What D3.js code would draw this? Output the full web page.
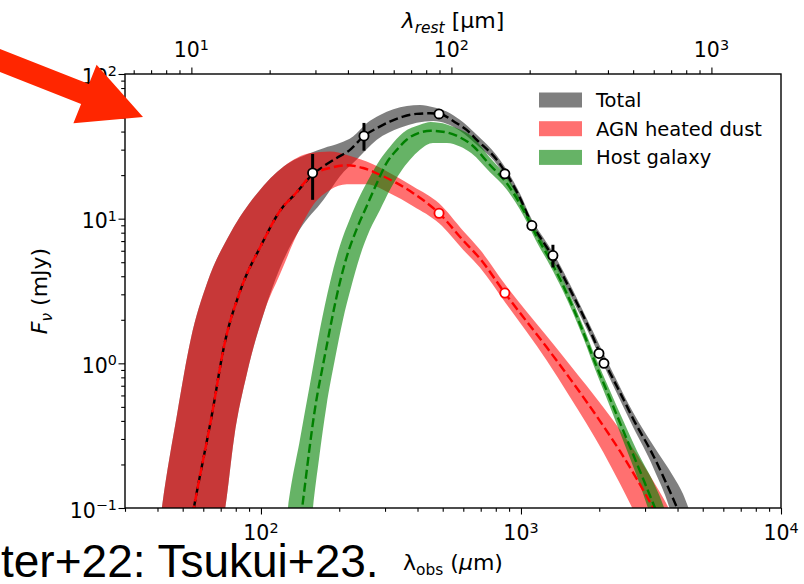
<!DOCTYPE html>
<html>
<head>
<meta charset="utf-8">
<script src="https://cdn.jsdelivr.net/npm/d3@7/dist/d3.min.js"></script>
<style>
  html, body { margin: 0; padding: 0; background: #fff; }
  svg { display: block; }
</style>
</head>
<body>
<svg id="chart" width="804" height="584"></svg>
<script>
// ---------------- data ----------------
const onePlusZ = 5.4;                       // rest-frame conversion for the top axis
const xMajorTicks = [100, 1000, 10000];
const restMajorTicks = [10, 100, 1000];
const yMajorTicks = [0.1, 1, 10, 100];

// photometry (observed wavelength in µm, flux density in mJy)
const obsWavelength = [158, 249, 484, 867, 1101, 1327, 1995, 2085];
const obsFlux       = [20.7, 37.3, 53.0, 20.4, 8.96, 5.56, 1.17, 1.0];
const obsErrLow     = [13.5, 29.5, null, null, null, 4.6, null, null];
const obsErrHigh    = [28.0, 45.9, null, null, null, 6.6, null, null];

// AGN-only contribution at two bands
const agnPointWavelength = [484, 867];
const agnPointFlux = [10.9, 3.06];

// model curves: [wavelength µm, flux mJy]
const totalModel = [[52.5,0.06],[55.2,0.1],[65,0.457],[72.1,1.31],[83.6,3.24],[99.7,6.44],[122,12.2],[133,14.3],[158,20.2],
  [174,23.0],[195,26.2],[220,29.9],[249,37.3],[279,42.2],[313,46.9],[352,50.8],[397,53.0],[447,53.5],[485,53.0],
  [566,45.7],[618,41.1],[676,35.1],[807,25.5],[991,13.9],[1101,9.2],[1219,6.9],[1327,5.45],[1517,3.45],[1841,1.7],
  [1995,1.22],[2264,0.776],[2477,0.565],[2704,0.411],[3228,0.23],[3855,0.115],[4200,0.08]];
const agnModel = [[52.5,0.06],[55.2,0.1],[65,0.457],[72.1,1.31],[83.6,3.24],[99.7,6.44],[122,12.2],[133,14.3],[158,20.2],
  [184,22.4],[214,23.4],[247,22.4],[287,20.1],[333,17.6],[385,15.0],[484,10.9],[600,7.06],[695,5.3],[867,3.06],
  [1256,1.29],[1541,0.787],[2070,0.371],[2404,0.247],[2787,0.159],[3133,0.110],[3400,0.085]];
const hostModel = [[140.5,0.07],[144,0.1],[162,0.508],[175,1.07],[201,3.61],[214,5.5],[233,8.4],[255,12.2],[279,17.6],
  [304,24.2],[333,29.9],[363,35.1],[409,39.4],[450,40.5],[518,39.5],[582,36.5],[645,32.5],[760,23.5],[881,17.6],
  [1021,11.5],[1149,7.55],[1293,5.21],[1457,3.41],[1738,1.63],[1928,1.01],[2200,0.57],[2489,0.333],[2800,0.2],
  [3228,0.107],[3500,0.075]];

// uncertainty envelopes (upper and lower boundary of each band)
const totalBandUpper = [[40.5,0.07],[41.7,0.104],[47.7,0.457],[53.7,1.47],[62.1,3.61],[76.3,7.96],[96.8,15.0],[122.6,23.0],
  [155,28.4],[174,30.7],[201,33.3],[226,37.0],[255,45.7],[287,52.1],[323,57.1],[364,60.1],[409,61.1],[460,58.9],
  [518,55.0],[582,48.2],[676,38.0],[807,27.3],[991,14.9],[1101,9.86],[1219,7.4],[1327,5.84],[1517,3.74],[1841,1.84],
  [2264,0.85],[2704,0.455],[3228,0.27],[3855,0.165],[4200,0.125],[4600,0.08]];
const totalBandLower = [[40.5,0.07],[70.5,0.07],[73.1,0.104],[78.7,0.299],[88.5,0.863],[102.7,2.24],[118,4.5],[141,8.4],[174,13.5],
  [201,19.6],[233,25.5],[279,35.1],[343,42.5],[460,47.4],[582,40.6],[676,32.4],[807,23.8],[991,13.0],[1101,8.6],
  [1219,6.45],[1327,5.08],[1517,3.18],[1841,1.56],[2264,0.70],[2704,0.36],[3228,0.19],[3855,0.08],[4000,0.06]];
const agnBandUpper = [[40.5,0.07],[41.7,0.104],[47.7,0.457],[53.7,1.47],[62.1,3.61],[76.3,7.96],[96.8,15.0],[122.6,23.0],
  [155,28.4],[184,29.1],[214,27.6],[255,24.8],[313,20.7],[385,16.7],[484,12.77],[600,8.21],[695,6.11],[867,3.53],
  [1256,1.543],[1541,0.977],[2070,0.499],[2404,0.348],[2787,0.2355],[3133,0.168],[3400,0.131],[3733,0.096],[3950,0.075]];
const agnBandLower = [[40.5,0.07],[70.5,0.07],[73.1,0.104],[78.7,0.299],[88.5,0.863],[102.7,2.24],[119,4.22],[140,8.3],[159,12.5],
  [184,15.8],[214,17.3],[255,17.3],[313,15.0],[385,12.2],[484,9.3],[600,6.08],[695,4.59],[867,2.655],[1256,1.045],
  [1541,0.588],[2070,0.244],[2404,0.147],[2787,0.087],[3133,0.058]];
const hostBandUpper = [[124,0.07],[127,0.1],[141.3,0.299],[154.3,0.716],[168.6,1.72],[184.3,3.62],[201.2,6.51],[219.9,10.0],
  [240.3,14.4],[262.6,19.5],[286.9,25.5],[313.5,31.4],[351.8,39.2],[408.8,44.5],[450,46.5],[518,44.8],[582,41.4],
  [645,37.3],[760,26.4],[881,19.5],[1021,12.6],[1149,8.27],[1293,5.71],[1457,3.74],[1738,1.79],[1928,1.12],
  [2200,0.647],[2489,0.391],[2800,0.246],[3228,0.151],[3500,0.108],[3800,0.07]];
const hostBandLower = [[124,0.07],[155.5,0.07],[158.5,0.1],[167.2,0.218],[178.6,0.508],[192.6,1.07],[206.8,2.01],[222,3.34],
  [240.3,5.5],[262.6,8.4],[286.9,11.5],[313.5,15.85],[342.4,20.7],[374.2,25.5],[408.8,29.9],[458.6,33.3],[519.3,33.3],
  [582.6,31.5],[645,28.3],[760,20.9],[881,15.9],[1021,10.5],[1149,6.89],[1293,4.75],[1457,3.11],[1738,1.49],
  [1928,0.91],[2200,0.502],[2489,0.283],[2800,0.163],[3228,0.076],[3400,0.055]];

const legendLabels = ["Total", "AGN heated dust", "Host galaxy"];

// ---------------- layout ----------------
const svg = d3.select("#chart");
const FONT = "DejaVu Sans, sans-serif";
const plot = { left: 125, right: 781, top: 74, bottom: 508 };

const x = d3.scaleLog().domain([30, 1e4]).range([plot.left, plot.right]);
const xRest = d3.scaleLog().domain([30 / onePlusZ, 1e4 / onePlusZ]).range([plot.left, plot.right]);
const y = d3.scaleLog().domain([0.1, 100]).range([plot.bottom, plot.top]);

svg.append("defs").append("clipPath").attr("id", "plotClip")
  .append("rect")
  .attr("x", plot.left).attr("y", plot.top)
  .attr("width", plot.right - plot.left).attr("height", plot.bottom - plot.top);

const body = svg.append("g").attr("clip-path", "url(#plotClip)");

// bands: smooth upper boundary, then the lower boundary traced backwards
const edge = d3.line().x(d => x(d[0])).y(d => y(d[1])).curve(d3.curveMonotoneX);
const bandPath = (upper, lower) =>
  edge(upper) + "L" + edge(lower.slice().reverse()).slice(1) + "Z";

body.append("path").attr("d", bandPath(totalBandUpper, totalBandLower))
  .attr("fill", "#000").attr("fill-opacity", 0.5);
body.append("path").attr("d", bandPath(agnBandUpper, agnBandLower))
  .attr("fill", "#ff0000").attr("fill-opacity", 0.56);
body.append("path").attr("d", bandPath(hostBandUpper, hostBandLower))
  .attr("fill", "#008000").attr("fill-opacity", 0.6);

// median model lines
const curve = d3.line().x(d => x(d[0])).y(d => y(d[1])).curve(d3.curveMonotoneX);
body.append("path").attr("d", curve(totalModel)).attr("fill", "none")
  .attr("stroke", "#000").attr("stroke-width", 2.4).attr("stroke-dasharray", "9,4").attr("stroke-dashoffset", -6);
body.append("path").attr("d", curve(agnModel)).attr("fill", "none")
  .attr("stroke", "#ff0000").attr("stroke-width", 2.4).attr("stroke-dasharray", "9,4");
body.append("path").attr("d", curve(hostModel)).attr("fill", "none")
  .attr("stroke", "#008000").attr("stroke-width", 2.4).attr("stroke-dasharray", "9,4");

// error bars and photometric points
const pts = obsWavelength.map((w, i) => ({ w, f: obsFlux[i], lo: obsErrLow[i], hi: obsErrHigh[i] }));
body.selectAll("line.err").data(pts.filter(d => d.lo !== null)).join("line")
  .attr("class", "err")
  .attr("x1", d => x(d.w)).attr("x2", d => x(d.w))
  .attr("y1", d => y(d.lo)).attr("y2", d => y(d.hi))
  .attr("stroke", "#000").attr("stroke-width", 3);
body.selectAll("circle.obs").data(pts).join("circle")
  .attr("class", "obs")
  .attr("cx", d => x(d.w)).attr("cy", d => y(d.f)).attr("r", 4.6)
  .attr("fill", "#fff").attr("stroke", "#000").attr("stroke-width", 1.8);
body.selectAll("circle.agn").data(agnPointWavelength.map((w, i) => ({ w, f: agnPointFlux[i] }))).join("circle")
  .attr("class", "agn")
  .attr("cx", d => x(d.w)).attr("cy", d => y(d.f)).attr("r", 4.6)
  .attr("fill", "#fff").attr("stroke", "#ff0000").attr("stroke-width", 1.8);

// ---------------- axes ----------------
const isPow10 = v => Math.abs(Math.log10(v) - Math.round(Math.log10(v))) < 1e-9;
const minorOf = scale => scale.ticks().filter(v => !isPow10(v));

function drawAxis(axisFn, scale, majors, transform, majorLen, minorLen) {
  const g = svg.append("g").attr("transform", transform);
  g.call(axisFn(scale).tickValues(majors).tickSize(majorLen).tickFormat(() => ""));
  g.append("g").call(axisFn(scale).tickValues(minorOf(scale)).tickSize(minorLen).tickFormat(() => ""));
  g.selectAll(".domain").remove();
  g.selectAll(".tick line").attr("stroke", "#000").attr("stroke-width", 1.1);
  g.selectAll("text").remove();
}
drawAxis(d3.axisBottom, x, xMajorTicks, `translate(0,${plot.bottom})`, 6.5, 3.8);
drawAxis(d3.axisTop, xRest, restMajorTicks, `translate(0,${plot.top})`, 6.5, 3.8);
drawAxis(d3.axisLeft, y, yMajorTicks, `translate(${plot.left},0)`, 6.5, 3.8);

// frame
svg.append("rect")
  .attr("x", plot.left).attr("y", plot.top)
  .attr("width", plot.right - plot.left).attr("height", plot.bottom - plot.top)
  .attr("fill", "none").attr("stroke", "#000").attr("stroke-width", 1.4);

// power-of-ten tick labels
const TICK_FS = 20.5;
function powLabel(sel, v) {
  const e = Math.round(Math.log10(v));
  sel.append("tspan").text("10");
  sel.append("tspan").attr("dy", -7.5).attr("font-size", TICK_FS * 0.7).text(String(e).replace("-", "\u2212"));
}
const labelG = svg.append("g").attr("font-family", FONT).attr("font-size", TICK_FS).attr("fill", "#000");
xMajorTicks.forEach(v => {
  labelG.append("text").attr("x", x(v)).attr("y", 540).attr("text-anchor", "middle").call(powLabel, v);
});
restMajorTicks.forEach(v => {
  labelG.append("text").attr("x", xRest(v)).attr("y", 57).attr("text-anchor", "middle").call(powLabel, v);
});
yMajorTicks.forEach(v => {
  labelG.append("text").attr("x", 117).attr("y", y(v) + 9.5).attr("text-anchor", "end").call(powLabel, v);
});

// axis titles
const TITLE_FS = 22;
const SUB_FS = TITLE_FS * 0.7;
const bottomTitle = svg.append("text").attr("x", 453).attr("y", 570).attr("text-anchor", "middle")
  .attr("font-family", FONT).attr("font-size", TITLE_FS);
bottomTitle.append("tspan").text("\u03bb");
bottomTitle.append("tspan").attr("dy", 4.5).attr("font-size", SUB_FS).text("obs");
bottomTitle.append("tspan").attr("dy", -4.5).text(" (");
bottomTitle.append("tspan").attr("font-style", "italic").text("\u03bc");
bottomTitle.append("tspan").text("m)");

const topTitle = svg.append("text").attr("x", 453).attr("y", 28).attr("text-anchor", "middle")
  .attr("font-family", FONT).attr("font-size", TITLE_FS);
topTitle.append("tspan").attr("font-style", "italic").text("\u03bb");
topTitle.append("tspan").attr("dy", 4.5).attr("font-size", SUB_FS).attr("font-style", "italic").text("rest");
topTitle.append("tspan").attr("dy", -4.5).text(" [\u00b5m]");

const leftTitle = svg.append("text")
  .attr("transform", `translate(47,${(plot.top + plot.bottom) / 2}) rotate(-90)`)
  .attr("text-anchor", "middle").attr("font-family", FONT).attr("font-size", TITLE_FS);
leftTitle.append("tspan").attr("font-style", "italic").text("F");
leftTitle.append("tspan").attr("dy", 4.5).attr("font-size", SUB_FS).attr("font-style", "italic").text("\u03bd");
leftTitle.append("tspan").attr("dy", -4.5).text(" (mJy)");

// legend
const legendFills = [["#000", 0.5], ["#ff0000", 0.56], ["#008000", 0.6]];
const legend = svg.append("g").attr("font-family", FONT).attr("font-size", 19.5);
legendLabels.forEach((lab, i) => {
  const cy = 100 + i * 28.7;
  legend.append("rect").attr("x", 539).attr("y", cy - 7.5).attr("width", 43).attr("height", 15)
    .attr("fill", legendFills[i][0]).attr("fill-opacity", legendFills[i][1]);
  legend.append("text").attr("x", 596).attr("y", cy + 7).text(lab);
});

// citation line of the slide
svg.append("text").attr("x", 1).attr("y", 577)
  .attr("font-family", "Liberation Sans, Arial, sans-serif").attr("font-size", 46).attr("fill", "#000")
  .text("ter+22: Tsukui+23.");

// call-out arrow
svg.append("polygon")
  .attr("points", "-16.1,42.6 88.9,84 96.6,64.8 143,117 73.4,123.2 81.1,104 -23.9,62.6")
  .attr("fill", "#ff2600");
</script>
</body>
</html>
